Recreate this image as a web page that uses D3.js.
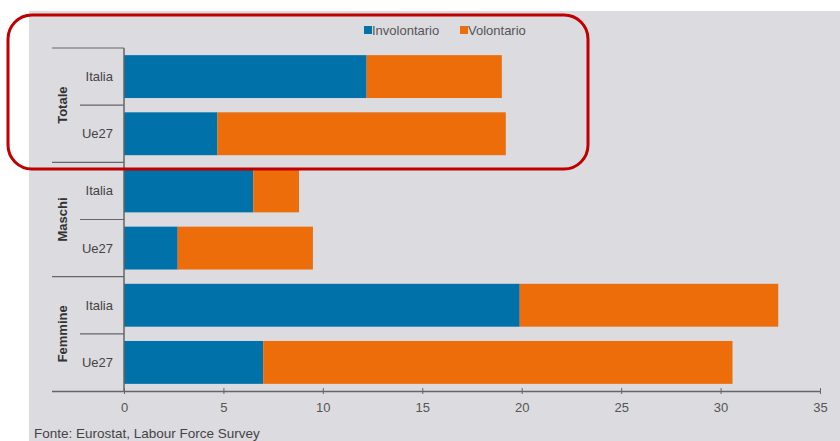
<!DOCTYPE html>
<html>
<head>
<meta charset="utf-8">
<script src="https://cdn.jsdelivr.net/npm/d3@7"></script>
<style>
  body { margin: 0; background: #fff; }
  text { font-family: "Liberation Sans", Arial, sans-serif; }
</style>
</head>
<body>
<div id="chart"></div>
<script>
// dati
var groups = ["Totale", "Maschi", "Femmine"];
var areas = ["Italia", "Ue27"];
var involontario = [12.2, 4.7, 6.5, 2.7, 19.9, 7.0];
var volontario = [6.8, 14.5, 2.3, 6.8, 13.0, 23.6];
var xTicks = [0, 5, 10, 15, 20, 25, 30, 35];
var seriesNames = ["Involontario", "Volontario"];
var colors = ["#0071a9", "#ed6d0b"];

var rows = [];
groups.forEach(function(g, gi) {
    areas.forEach(function(a, ai) {
        var i = gi * areas.length + ai;
        rows.push({key: g + "-" + a, group: g, area: a, inv: involontario[i], vol: volontario[i]});
    });
});

var W = 840, H = 441;
var svg = d3.select("#chart").append("svg")
    .attr("width", W)
    .attr("height", H);

// sfondo grigio
svg.append("rect")
    .attr("x", 29).attr("y", 11)
    .attr("width", W - 29).attr("height", H - 11)
    .attr("fill", "#dcdbe0");

var x = d3.scaleLinear().domain([0, 35]).range([124, 820]);
var y = d3.scaleBand()
    .domain(rows.map(function(d) { return d.key; }))
    .range([48, 391])
    .paddingInner(0.25)
    .paddingOuter(0.125);

var stack = d3.stack().keys(["inv", "vol"])(rows);

svg.selectAll("g.serie")
    .data(stack)
    .enter()
    .append("g")
    .attr("class", "serie")
    .attr("fill", function(d, i) { return colors[i]; })
    .selectAll("rect")
    .data(function(d) { return d; })
    .enter()
    .append("rect")
    .attr("x", function(d) { return x(d[0]); })
    .attr("y", function(d) { return y(d.data.key); })
    .attr("width", function(d) { return x(d[1]) - x(d[0]); })
    .attr("height", y.bandwidth());

// asse x
var xAxis = svg.append("g")
    .attr("transform", "translate(0,391)")
    .call(d3.axisBottom(x).tickValues(xTicks).tickSize(3).tickSizeOuter(0));
xAxis.select(".domain").remove();
xAxis.selectAll(".tick line").attr("stroke", "#666").attr("y1", -3);
xAxis.selectAll("text")
    .attr("fill", "#555")
    .attr("font-size", 13)
    .attr("dy", "1.15em");

var lineCol = "#666";
var step = y.step();
var top0 = y.range()[0];

// linea asse verticale e asse orizzontale
svg.append("line")
    .attr("x1", x(0)).attr("x2", x(0))
    .attr("y1", top0).attr("y2", 392)
    .attr("stroke", lineCol).attr("stroke-width", 1.5);
svg.append("line")
    .attr("x1", 52).attr("x2", x(35))
    .attr("y1", 391.5).attr("y2", 391.5)
    .attr("stroke", lineCol).attr("stroke-width", 1.5);

// separatori dei gruppi
groups.forEach(function(g, gi) {
    var gTop = top0 + gi * step * 2;
    svg.append("line")
        .attr("x1", 52).attr("x2", x(0))
        .attr("y1", gTop).attr("y2", gTop)
        .attr("stroke", lineCol).attr("stroke-width", 1.2);
    svg.append("line")
        .attr("x1", 80).attr("x2", x(0))
        .attr("y1", gTop + step).attr("y2", gTop + step)
        .attr("stroke", lineCol).attr("stroke-width", 1.2);
    svg.append("text")
        .attr("transform", "translate(67," + (gTop + step) + ") rotate(-90)")
        .attr("text-anchor", "middle")
        .attr("font-size", 13)
        .attr("font-weight", "bold")
        .attr("fill", "#333")
        .text(g);
});

// etichette Italia / Ue27
svg.selectAll("text.cat")
    .data(rows)
    .enter()
    .append("text")
    .attr("class", "cat")
    .attr("x", 113)
    .attr("y", function(d) { return y(d.key) + y.bandwidth() / 2; })
    .attr("dy", "0.35em")
    .attr("text-anchor", "end")
    .attr("font-size", 13)
    .attr("fill", "#444")
    .text(function(d) { return d.area; });

// legenda
var legX = [364, 460];
seriesNames.forEach(function(n, i) {
    svg.append("rect")
        .attr("x", legX[i]).attr("y", 26)
        .attr("width", 8).attr("height", 8)
        .attr("fill", colors[i]);
    svg.append("text")
        .attr("x", legX[i] + 8).attr("y", 35)
        .attr("font-size", 13)
        .attr("fill", "#555")
        .text(n);
});

// fonte
svg.append("text")
    .attr("x", 34).attr("y", 438)
    .attr("font-size", 13.5)
    .attr("fill", "#444")
    .text("Fonte: Eurostat, Labour Force Survey");

// riquadro rosso di evidenziazione
svg.append("rect")
    .attr("x", 8).attr("y", 15)
    .attr("width", 580).attr("height", 154)
    .attr("rx", 24).attr("ry", 24)
    .attr("fill", "none")
    .attr("stroke", "#c00000")
    .attr("stroke-width", 3);
</script>
</body>
</html>
